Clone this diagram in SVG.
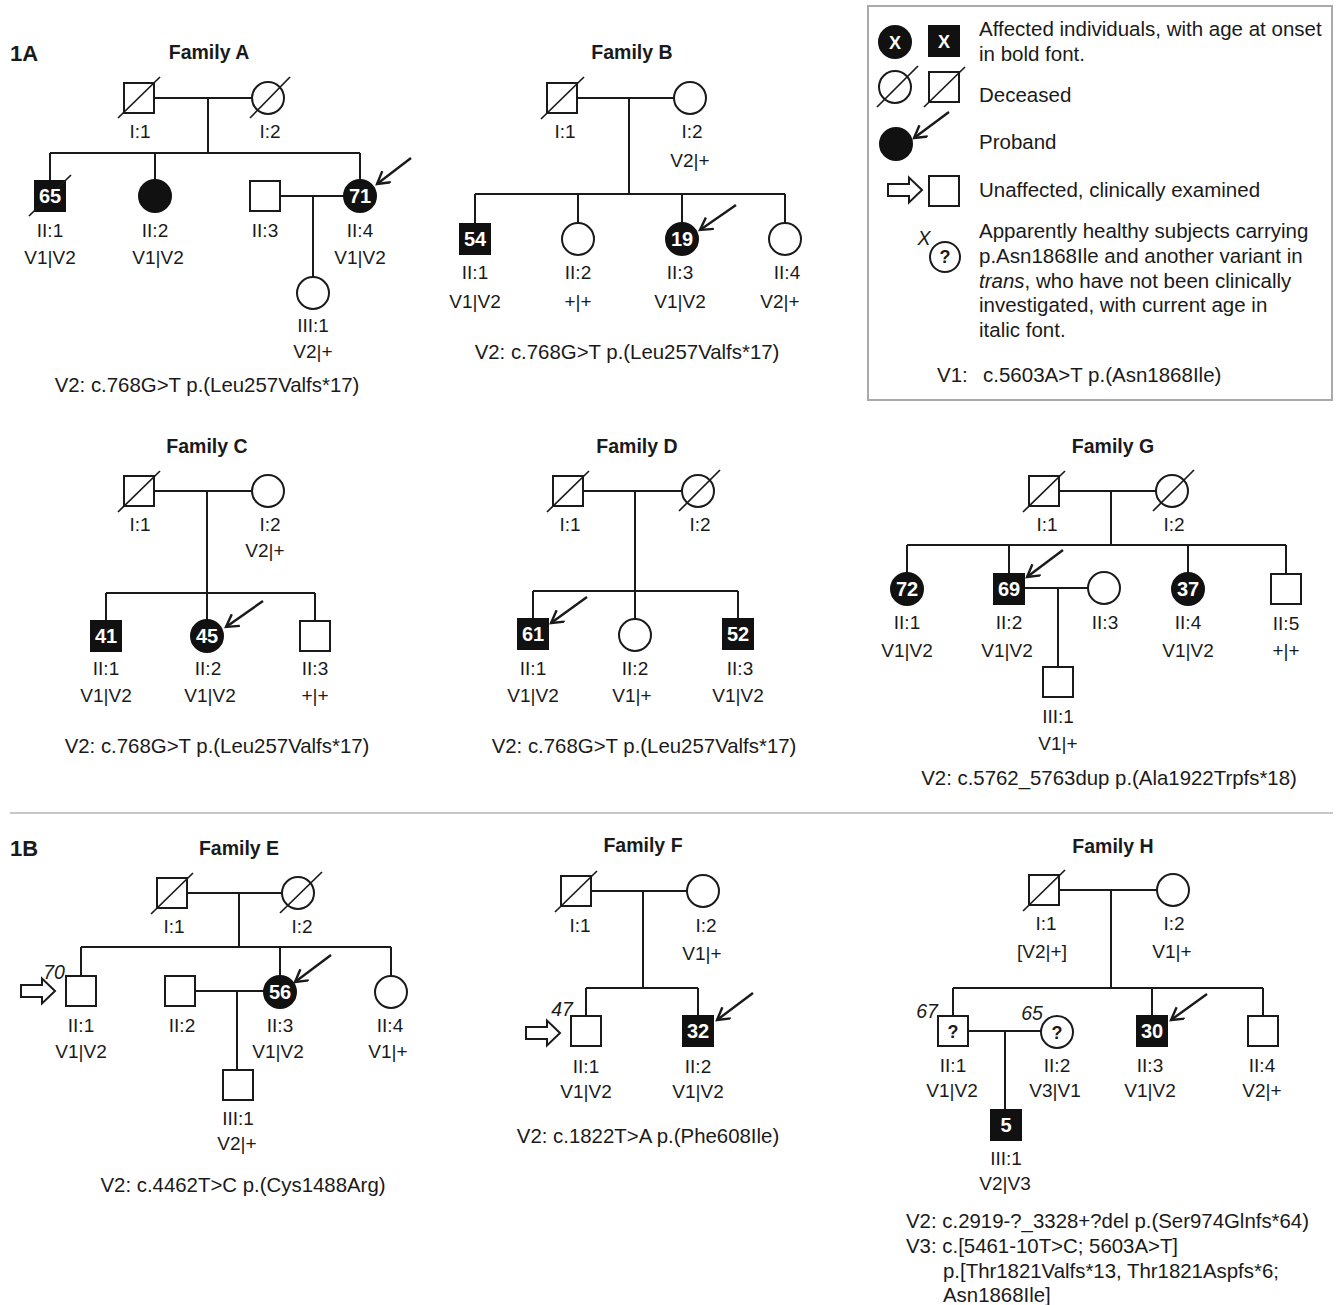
<svg xmlns="http://www.w3.org/2000/svg" xmlns:xlink="http://www.w3.org/1999/xlink" width="1336" height="1305" viewBox="0 0 1336 1305">
<style>
.ln{stroke:#1a1a1a;stroke-width:2;fill:none}
.sl{stroke:#1a1a1a;stroke-width:1.7;fill:none}
.o{fill:#fff;stroke:#1a1a1a;stroke-width:2}
.f{fill:#111;stroke:#111;stroke-width:2}
.pa{stroke:#1a1a1a;stroke-width:2.4;fill:none;marker-end:url(#ah)}
text{font-family:"Liberation Sans",Arial,Helvetica,sans-serif;fill:#1a1a1a}
.t{font-size:19px;text-anchor:middle}
.nt{font-size:20.4px;text-anchor:middle}
.nl{font-size:20.4px}
.lg{font-size:20.5px}
.ttl{font-size:19.5px;font-weight:bold;text-anchor:middle}
.pn{font-size:22px;font-weight:bold}
.num{font-size:20px;font-weight:bold;fill:#fff;text-anchor:middle}
.q{font-size:18px;font-weight:bold;fill:#1a1a1a;text-anchor:middle}
.age{font-size:19.5px;font-style:italic;text-anchor:middle}
</style>
<defs>
<marker id="ah" markerUnits="userSpaceOnUse" markerWidth="18" markerHeight="18" refX="13" refY="7.5" orient="auto">
<path d="M1,0.5 L13,7.5 L1,14.5" fill="none" stroke="#1a1a1a" stroke-width="2.4"/>
</marker>
<path id="ha" d="M0,0 L-13,-12.5 L-13,-6 L-34,-6 L-34,6 L-13,6 L-13,12.5 Z" fill="#fff" stroke="#1a1a1a" stroke-width="2"/>
</defs>
<rect width="1336" height="1305" fill="#fff"/>

<!-- panel labels and separator -->
<text class="pn" x="10" y="61">1A</text>
<text class="pn" x="10" y="856">1B</text>
<line x1="10" y1="813" x2="1333" y2="813" stroke="#b5b5b5" stroke-width="1.5"/>

<!-- ============ CONNECTORS ============ -->
<g id="connectors" class="ln">
<!-- Family A -->
<path d="M154,98 H252 M208,98 V153 M50,153 H360 M50,153 V181 M155,153 V180 M360,153 V180 M280,196 H344 M313,196 V277"/>
<!-- Family B -->
<path d="M577,98 H674 M629,98 V194 M475,194 H785 M475,194 V224 M578,194 V223 M682,194 V223 M785,194 V223"/>
<!-- Family C -->
<path d="M154,491 H252 M207,491 V620 M106,593 H315 M106,593 V621 M315,593 V621"/>
<!-- Family D -->
<path d="M583,491 H682 M635,491 V619 M533,591 H738 M533,591 V619 M738,591 V619"/>
<!-- Family G -->
<path d="M1059,491 H1156 M1111,491 V545 M907,545 H1286 M907,545 V573 M1009,545 V574 M1188,545 V573 M1286,545 V574 M1024,588 H1088 M1058,588 V667"/>
<!-- Family E -->
<path d="M187,893 H282 M239,893 V947 M81,947 H391 M81,947 V976 M280,947 V976 M391,947 V976 M195,991 H264 M237,991 V1070"/>
<!-- Family F -->
<path d="M591,891 H687 M643,891 V988 M586,988 H698 M586,988 V1016 M698,988 V1016"/>
<!-- Family H -->
<path d="M1059,890 H1157 M1111,890 V988 M953,988 H1263 M953,988 V1016 M1152,988 V1016 M1263,988 V1016 M968,1031 H1041 M1005,1031 V1110"/>
</g>

<!-- ============ FAMILY A ============ -->
<g id="familyA">
<text class="ttl" x="209" y="59">Family A</text>
<g id="A-I1"><rect class="o" x="124" y="83" width="30" height="30"/><line class="sl" x1="118" y1="118" x2="160" y2="77"/><text class="t" x="140" y="138">I:1</text></g>
<g id="A-I2"><circle class="o" cx="268" cy="98" r="16"/><line class="sl" x1="250" y1="118" x2="290" y2="77"/><text class="t" x="270" y="138">I:2</text></g>
<g id="A-II1"><rect class="f" x="35" y="181" width="30" height="30"/><line class="sl" x1="29" y1="216" x2="71" y2="175"/><text class="num" x="50" y="203">65</text><text class="t" x="50" y="237">II:1</text><text class="t" x="50" y="264">V1|V2</text></g>
<g id="A-II2"><circle class="f" cx="155" cy="196" r="16"/><text class="t" x="155" y="237">II:2</text><text class="t" x="158" y="264">V1|V2</text></g>
<g id="A-II3"><rect class="o" x="250" y="181" width="30" height="30"/><text class="t" x="265" y="237">II:3</text></g>
<g id="A-II4"><circle class="f" cx="360" cy="196" r="16"/><text class="num" x="360" y="203">71</text><line class="pa" x1="411" y1="158" x2="377" y2="184"/><text class="t" x="360" y="237">II:4</text><text class="t" x="360" y="264">V1|V2</text></g>
<g id="A-III1"><circle class="o" cx="313" cy="293" r="16"/><text class="t" x="313" y="332">III:1</text><text class="t" x="313" y="358">V2|+</text></g>
<text class="nt" x="207" y="392">V2: c.768G&gt;T p.(Leu257Valfs*17)</text>
</g>

<!-- ============ FAMILY B ============ -->
<g id="familyB">
<text class="ttl" x="632" y="59">Family B</text>
<g id="B-I1"><rect class="o" x="547" y="83" width="30" height="30"/><line class="sl" x1="541" y1="119" x2="584" y2="77"/><text class="t" x="565" y="138">I:1</text></g>
<g id="B-I2"><circle class="o" cx="690" cy="98" r="16"/><text class="t" x="692" y="138">I:2</text><text class="t" x="690" y="167">V2|+</text></g>
<g id="B-II1"><rect class="f" x="460" y="224" width="30" height="30"/><text class="num" x="475" y="246">54</text><text class="t" x="475" y="279">II:1</text><text class="t" x="475" y="308">V1|V2</text></g>
<g id="B-II2"><circle class="o" cx="578" cy="239" r="16"/><text class="t" x="578" y="279">II:2</text><text class="t" x="578" y="308">+|+</text></g>
<g id="B-II3"><circle class="f" cx="682" cy="239" r="16"/><text class="num" x="682" y="246">19</text><line class="pa" x1="736" y1="205" x2="700" y2="230"/><text class="t" x="680" y="279">II:3</text><text class="t" x="680" y="308">V1|V2</text></g>
<g id="B-II4"><circle class="o" cx="785" cy="239" r="16"/><text class="t" x="787" y="279">II:4</text><text class="t" x="780" y="308">V2|+</text></g>
<text class="nt" x="627" y="359">V2: c.768G&gt;T p.(Leu257Valfs*17)</text>
</g>

<!-- ============ LEGEND ============ -->
<g id="legend">
<rect x="868" y="6" width="464" height="394" fill="#fff" stroke="#aaaaaa" stroke-width="2"/>
<g id="L-affected">
<circle class="f" cx="895" cy="42" r="16"/><text class="num" x="895" y="49" style="font-size:18px">X</text>
<rect class="f" x="929" y="26" width="30" height="30"/><text class="num" x="944" y="48" style="font-size:18px">X</text>
<text class="lg" x="979" y="36">Affected individuals, with age at onset</text>
<text class="lg" x="979" y="61">in bold font.</text>
</g>
<g id="L-deceased">
<circle class="o" cx="895" cy="87" r="16"/><line class="sl" x1="877" y1="107" x2="918" y2="66"/>
<rect class="o" x="929" y="72" width="30" height="30"/><line class="sl" x1="924" y1="107" x2="965" y2="67"/>
<text class="lg" x="979" y="102">Deceased</text>
</g>
<g id="L-proband">
<circle class="f" cx="896" cy="144" r="16"/><line class="pa" x1="949" y1="112" x2="914" y2="138"/>
<text class="lg" x="979" y="149">Proband</text>
</g>
<g id="L-unaffected">
<use xlink:href="#ha" href="#ha" transform="translate(922,190)"/>
<rect class="o" x="929" y="176" width="30" height="30"/>
<text class="lg" x="979" y="197">Unaffected, clinically examined</text>
</g>
<g id="L-healthy">
<text class="age" x="924" y="245">X</text>
<circle class="o" cx="945" cy="257" r="15"/><text class="q" x="945" y="263">?</text>
<text class="lg" x="979" y="238">Apparently healthy subjects carrying</text>
<text class="lg" x="979" y="263">p.Asn1868Ile and another variant in</text>
<text class="lg" x="979" y="288"><tspan font-style="italic">trans</tspan>, who have not been clinically</text>
<text class="lg" x="979" y="312">investigated, with current age in</text>
<text class="lg" x="979" y="337">italic font.</text>
</g>
<text class="lg" x="937" y="382">V1:</text>
<text class="lg" x="983" y="382">c.5603A&gt;T p.(Asn1868Ile)</text>
</g>

<!-- ============ FAMILY C ============ -->
<g id="familyC">
<text class="ttl" x="207" y="453">Family C</text>
<g id="C-I1"><rect class="o" x="124" y="476" width="30" height="30"/><line class="sl" x1="118" y1="512" x2="160" y2="471"/><text class="t" x="140" y="531">I:1</text></g>
<g id="C-I2"><circle class="o" cx="268" cy="491" r="16"/><text class="t" x="270" y="531">I:2</text><text class="t" x="265" y="557">V2|+</text></g>
<g id="C-II1"><rect class="f" x="91" y="621" width="30" height="30"/><text class="num" x="106" y="643">41</text><text class="t" x="106" y="675">II:1</text><text class="t" x="106" y="702">V1|V2</text></g>
<g id="C-II2"><circle class="f" cx="207" cy="636" r="16"/><text class="num" x="207" y="643">45</text><line class="pa" x1="263" y1="601" x2="226" y2="627"/><text class="t" x="208" y="675">II:2</text><text class="t" x="210" y="702">V1|V2</text></g>
<g id="C-II3"><rect class="o" x="300" y="621" width="30" height="30"/><text class="t" x="315" y="675">II:3</text><text class="t" x="315" y="702">+|+</text></g>
<text class="nt" x="217" y="753">V2: c.768G&gt;T p.(Leu257Valfs*17)</text>
</g>

<!-- ============ FAMILY D ============ -->
<g id="familyD">
<text class="ttl" x="637" y="453">Family D</text>
<g id="D-I1"><rect class="o" x="553" y="476" width="30" height="30"/><line class="sl" x1="547" y1="512" x2="589" y2="471"/><text class="t" x="570" y="531">I:1</text></g>
<g id="D-I2"><circle class="o" cx="698" cy="491" r="16"/><line class="sl" x1="679" y1="511" x2="720" y2="470"/><text class="t" x="700" y="531">I:2</text></g>
<g id="D-II1"><rect class="f" x="518" y="619" width="30" height="30"/><text class="num" x="533" y="641">61</text><line class="pa" x1="587" y1="597" x2="551" y2="623"/><text class="t" x="533" y="675">II:1</text><text class="t" x="533" y="702">V1|V2</text></g>
<g id="D-II2"><circle class="o" cx="635" cy="635" r="16"/><text class="t" x="635" y="675">II:2</text><text class="t" x="632" y="702">V1|+</text></g>
<g id="D-II3"><rect class="f" x="723" y="619" width="30" height="30"/><text class="num" x="738" y="641">52</text><text class="t" x="740" y="675">II:3</text><text class="t" x="738" y="702">V1|V2</text></g>
<text class="nt" x="644" y="753">V2: c.768G&gt;T p.(Leu257Valfs*17)</text>
</g>

<!-- ============ FAMILY G ============ -->
<g id="familyG">
<text class="ttl" x="1113" y="453">Family G</text>
<g id="G-I1"><rect class="o" x="1029" y="476" width="30" height="30"/><line class="sl" x1="1023" y1="512" x2="1065" y2="471"/><text class="t" x="1047" y="531">I:1</text></g>
<g id="G-I2"><circle class="o" cx="1172" cy="491" r="16"/><line class="sl" x1="1153" y1="511" x2="1194" y2="470"/><text class="t" x="1174" y="531">I:2</text></g>
<g id="G-II1"><circle class="f" cx="907" cy="589" r="16"/><text class="num" x="907" y="596">72</text><text class="t" x="907" y="629">II:1</text><text class="t" x="907" y="657">V1|V2</text></g>
<g id="G-II2"><rect class="f" x="994" y="574" width="30" height="30"/><text class="num" x="1009" y="596">69</text><line class="pa" x1="1063" y1="550" x2="1027" y2="577"/><text class="t" x="1009" y="629">II:2</text><text class="t" x="1007" y="657">V1|V2</text></g>
<g id="G-II3"><circle class="o" cx="1104" cy="588" r="16"/><text class="t" x="1105" y="629">II:3</text></g>
<g id="G-II4"><circle class="f" cx="1188" cy="589" r="16"/><text class="num" x="1188" y="596">37</text><text class="t" x="1188" y="629">II:4</text><text class="t" x="1188" y="657">V1|V2</text></g>
<g id="G-II5"><rect class="o" x="1271" y="574" width="30" height="30"/><text class="t" x="1286" y="630">II:5</text><text class="t" x="1286" y="657">+|+</text></g>
<g id="G-III1"><rect class="o" x="1043" y="667" width="30" height="30"/><text class="t" x="1058" y="723">III:1</text><text class="t" x="1058" y="750">V1|+</text></g>
<text class="nt" x="1109" y="785">V2: c.5762_5763dup p.(Ala1922Trpfs*18)</text>
</g>

<!-- ============ FAMILY E ============ -->
<g id="familyE">
<text class="ttl" x="239" y="855">Family E</text>
<g id="E-I1"><rect class="o" x="157" y="878" width="30" height="30"/><line class="sl" x1="151" y1="914" x2="193" y2="873"/><text class="t" x="174" y="933">I:1</text></g>
<g id="E-I2"><circle class="o" cx="298" cy="893" r="16"/><line class="sl" x1="280" y1="913" x2="322" y2="872"/><text class="t" x="302" y="933">I:2</text></g>
<g id="E-II1"><use xlink:href="#ha" href="#ha" transform="translate(55,991)"/><text class="age" x="54" y="979">70</text><rect class="o" x="66" y="976" width="30" height="30"/><text class="t" x="81" y="1032">II:1</text><text class="t" x="81" y="1058">V1|V2</text></g>
<g id="E-II2"><rect class="o" x="165" y="976" width="30" height="30"/><text class="t" x="182" y="1032">II:2</text></g>
<g id="E-II3"><circle class="f" cx="280" cy="992" r="16"/><text class="num" x="280" y="999">56</text><line class="pa" x1="331" y1="955" x2="295" y2="982"/><text class="t" x="280" y="1032">II:3</text><text class="t" x="278" y="1058">V1|V2</text></g>
<g id="E-II4"><circle class="o" cx="391" cy="992" r="16"/><text class="t" x="390" y="1032">II:4</text><text class="t" x="388" y="1058">V1|+</text></g>
<g id="E-III1"><rect class="o" x="223" y="1070" width="30" height="30"/><text class="t" x="238" y="1125">III:1</text><text class="t" x="237" y="1150">V2|+</text></g>
<text class="nt" x="243" y="1192">V2: c.4462T&gt;C p.(Cys1488Arg)</text>
</g>

<!-- ============ FAMILY F ============ -->
<g id="familyF">
<text class="ttl" x="643" y="852">Family F</text>
<g id="F-I1"><rect class="o" x="561" y="876" width="30" height="30"/><line class="sl" x1="555" y1="912" x2="597" y2="871"/><text class="t" x="580" y="932">I:1</text></g>
<g id="F-I2"><circle class="o" cx="703" cy="891" r="16"/><text class="t" x="706" y="932">I:2</text><text class="t" x="702" y="960">V1|+</text></g>
<g id="F-II1"><use xlink:href="#ha" href="#ha" transform="translate(560,1033)"/><text class="age" x="562" y="1016">47</text><rect class="o" x="571" y="1016" width="30" height="30"/><text class="t" x="586" y="1073">II:1</text><text class="t" x="586" y="1098">V1|V2</text></g>
<g id="F-II2"><rect class="f" x="683" y="1016" width="30" height="30"/><text class="num" x="698" y="1038">32</text><line class="pa" x1="753" y1="993" x2="717" y2="1020"/><text class="t" x="698" y="1073">II:2</text><text class="t" x="698" y="1098">V1|V2</text></g>
<text class="nt" x="648" y="1143">V2: c.1822T&gt;A p.(Phe608Ile)</text>
</g>

<!-- ============ FAMILY H ============ -->
<g id="familyH">
<text class="ttl" x="1113" y="853">Family H</text>
<g id="H-I1"><rect class="o" x="1029" y="875" width="30" height="30"/><line class="sl" x1="1023" y1="911" x2="1065" y2="870"/><text class="t" x="1046" y="930">I:1</text><text class="t" x="1042" y="958">[V2|+]</text></g>
<g id="H-I2"><circle class="o" cx="1173" cy="890" r="16"/><text class="t" x="1174" y="930">I:2</text><text class="t" x="1172" y="958">V1|+</text></g>
<g id="H-II1"><text class="age" x="927" y="1018">67</text><rect class="o" x="938" y="1016" width="30" height="30"/><text class="q" x="953" y="1038">?</text><text class="t" x="953" y="1072">II:1</text><text class="t" x="952" y="1097">V1|V2</text></g>
<g id="H-II2"><text class="age" x="1032" y="1020">65</text><circle class="o" cx="1057" cy="1032" r="16"/><text class="q" x="1057" y="1039">?</text><text class="t" x="1057" y="1072">II:2</text><text class="t" x="1055" y="1097">V3|V1</text></g>
<g id="H-II3"><rect class="f" x="1137" y="1016" width="30" height="30"/><text class="num" x="1152" y="1038">30</text><line class="pa" x1="1207" y1="994" x2="1171" y2="1020"/><text class="t" x="1150" y="1072">II:3</text><text class="t" x="1150" y="1097">V1|V2</text></g>
<g id="H-II4"><rect class="o" x="1248" y="1016" width="30" height="30"/><text class="t" x="1262" y="1072">II:4</text><text class="t" x="1262" y="1097">V2|+</text></g>
<g id="H-III1"><rect class="f" x="991" y="1110" width="30" height="30"/><text class="num" x="1006" y="1132">5</text><text class="t" x="1006" y="1165">III:1</text><text class="t" x="1005" y="1190">V2|V3</text></g>
<text class="nl" x="906" y="1228">V2: c.2919-?_3328+?del p.(Ser974Glnfs*64)</text>
<text class="nl" x="906" y="1253">V3: c.[5461-10T&gt;C; 5603A&gt;T]</text>
<text class="nl" x="943" y="1278">p.[Thr1821Valfs*13, Thr1821Aspfs*6;</text>
<text class="nl" x="943" y="1302">Asn1868Ile]</text>
</g>
</svg>
